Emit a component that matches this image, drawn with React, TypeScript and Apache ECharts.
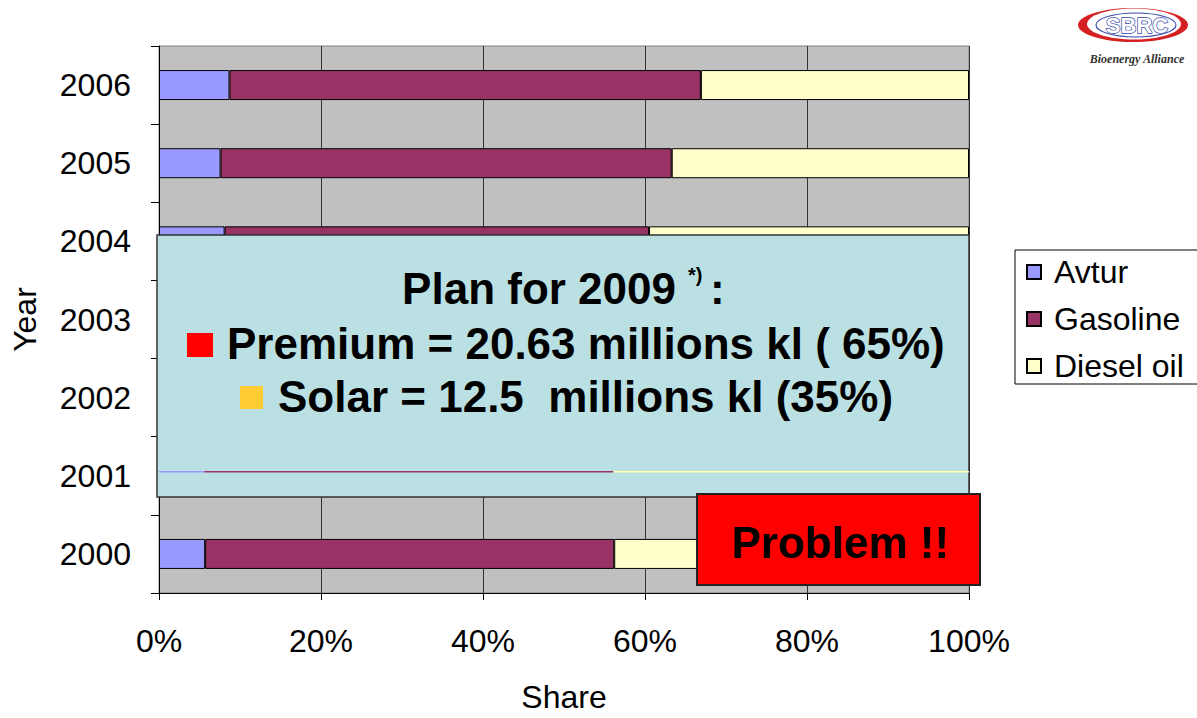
import React, { useEffect, useRef } from "react";
import * as echarts from "echarts";

const years = ["2000", "2001", "2002", "2003", "2004", "2005", "2006"];
const avtur = [5.7, 5.6, 6.0, 6.8, 8.1, 7.6, 8.7];
const gasoline = [50.5, 50.5, 51.0, 51.5, 52.4, 55.7, 58.2];
const diesel = [43.8, 43.9, 43.0, 41.7, 39.5, 36.7, 33.1];
const xTicks = [0, 20, 40, 60, 80, 100];
const seriesNames = ["Avtur", "Gasoline", "Diesel oil"];
const seriesColors = ["#9999FF", "#993366", "#FFFFCC"];

const FONT = "Liberation Sans, Arial, sans-serif";

export default function App() {
  const ref = useRef<HTMLDivElement>(null);
  useEffect(() => {
    if (!ref.current) return;
    const chart = echarts.init(ref.current, undefined, { renderer: "svg", width: 1197, height: 718 });
    const barStyle = (color: string) => ({
      color,
      borderColor: "#000",
      borderWidth: 1,
    });
    const values = [avtur, gasoline, diesel];
    chart.setOption({
      animation: false,
      backgroundColor: "#fff",
      textStyle: { fontFamily: FONT },
      grid: {
        left: 159,
        top: 46,
        width: 810,
        height: 555,
        show: true,
        backgroundColor: "#C0C0C0",
        borderColor: "#808080",
        borderWidth: 1,
      },
      legend: {
        orient: "vertical",
        left: 1015,
        top: 250,
        padding: [6, 40, 2, 11],
        itemWidth: 14,
        itemHeight: 14,
        itemGap: 15,
        icon: "rect",
        borderColor: "#000",
        borderWidth: 1,
        backgroundColor: "#fff",
        textStyle: {
          fontSize: 32,
          fontFamily: FONT,
          color: "#000",
          padding: [0, 0, 0, 8],
          lineHeight: 32,
        },
        data: seriesNames,
      },
      xAxis: {
        type: "value",
        min: xTicks[0],
        max: xTicks[xTicks.length - 1],
        interval: 20,
        name: "Share",
        nameLocation: "middle",
        nameGap: 88,
        nameTextStyle: { fontSize: 32, color: "#000", fontFamily: FONT },
        axisLine: { show: true, lineStyle: { color: "#000", width: 1 } },
        axisTick: { show: true, length: 7, lineStyle: { color: "#000" } },
        axisLabel: {
          formatter: "{value}%",
          fontSize: 32,
          color: "#000",
          margin: 32,
          fontFamily: FONT,
        },
        splitLine: { show: true, lineStyle: { color: "#333", width: 1 } },
      },
      yAxis: {
        type: "category",
        data: years,
        name: "Year",
        nameLocation: "middle",
        nameGap: 118,
        nameTextStyle: { fontSize: 32, color: "#000", fontFamily: FONT },
        axisLine: { show: true, lineStyle: { color: "#000", width: 1 } },
        axisTick: { show: true, length: 8, lineStyle: { color: "#000" } },
        axisLabel: { fontSize: 32, color: "#000", margin: 28, fontFamily: FONT },
        splitLine: { show: false },
      },
      series: seriesNames.map((name, i) => ({
        name,
        type: "bar",
        stack: "t",
        barWidth: 30,
        data: values[i],
        itemStyle: barStyle(seriesColors[i]),
      })),
    });

    // 2001 bar peeks through the overlay as a thin line
    const idx2001 = years.indexOf("2001");
    const peek: any[] = [];
    let acc = 0;
    values.forEach((arr, i) => {
      const p0 = chart.convertToPixel({ gridIndex: 0 }, [acc, idx2001]) as number[];
      acc += arr[idx2001];
      const p1 = chart.convertToPixel({ gridIndex: 0 }, [acc, idx2001]) as number[];
      peek.push({
        type: "line",
        z: 101,
        shape: { x1: p0[0], y1: p0[1] - 4, x2: p1[0], y2: p1[1] - 4 },
        style: { stroke: seriesColors[i] === "#FFFFCC" ? "#FFFFB0" : seriesColors[i], lineWidth: 1.5 },
      });
    });

    chart.setOption({
      graphic: [
        {
          type: "rect",
          z: 100,
          shape: { x: 157, y: 235, width: 812, height: 262 },
          style: { fill: "#BAE0E3", stroke: "#333", lineWidth: 1.5 },
        },
        ...peek,
        {
          type: "text",
          z: 101,
          x: 676,
          y: 288,
          style: {
            text: "Plan for 2009",
            font: "bold 44px " + FONT,
            fill: "#000",
            textAlign: "right",
            textVerticalAlign: "middle",
          },
        },
        {
          type: "text",
          z: 101,
          x: 688,
          y: 275,
          style: {
            text: "*)",
            font: "bold 20px " + FONT,
            fill: "#000",
            textAlign: "left",
            textVerticalAlign: "middle",
          },
        },
        {
          type: "text",
          z: 101,
          x: 710,
          y: 288,
          style: {
            text: ":",
            font: "bold 44px " + FONT,
            fill: "#000",
            textAlign: "left",
            textVerticalAlign: "middle",
          },
        },
        {
          type: "rect",
          z: 101,
          shape: { x: 187, y: 333, width: 26, height: 24 },
          style: { fill: "#FF0000" },
        },
        {
          type: "text",
          z: 101,
          x: 227,
          y: 343,
          style: {
            text: "Premium = 20.63 millions kl ( 65%)",
            font: "bold 44px " + FONT,
            fill: "#000",
            textAlign: "left",
            textVerticalAlign: "middle",
          },
        },
        {
          type: "rect",
          z: 101,
          shape: { x: 240, y: 386, width: 23, height: 23 },
          style: { fill: "#FFCC33" },
        },
        {
          type: "text",
          z: 101,
          x: 278,
          y: 396,
          style: {
            text: "Solar = 12.5  millions kl (35%)",
            font: "bold 44px " + FONT,
            fill: "#000",
            textAlign: "left",
            textVerticalAlign: "middle",
          },
        },
        {
          type: "rect",
          z: 102,
          shape: { x: 697, y: 494, width: 283, height: 91 },
          style: { fill: "#FF0000", stroke: "#222", lineWidth: 2 },
        },
        {
          type: "text",
          z: 103,
          x: 840,
          y: 542,
          style: {
            text: "Problem !!",
            font: "bold 44px " + FONT,
            fill: "#000",
            textAlign: "center",
            textVerticalAlign: "middle",
          },
        },
        // logo
        {
          type: "ellipse",
          z: 100,
          shape: { cx: 1133, cy: 25, rx: 55, ry: 17 },
          style: { fill: "#D42020" },
        },
        {
          type: "ellipse",
          z: 101,
          shape: { cx: 1134, cy: 24, rx: 47, ry: 15.5 },
          style: { fill: "#fff" },
        },
        {
          type: "ellipse",
          z: 102,
          shape: { cx: 1136, cy: 25, rx: 40, ry: 12 },
          style: { fill: "#fff", stroke: "#3B4BA8", lineWidth: 1.2 },
        },
        {
          type: "text",
          z: 103,
          x: 1137,
          y: 25,
          style: {
            text: "SBRC",
            font: "bold 22px " + FONT,
            fill: "#fff",
            stroke: "#3046A8",
            lineWidth: 1.4,
            textAlign: "center",
            textVerticalAlign: "middle",
          },
        },
        {
          type: "text",
          z: 103,
          x: 1137,
          y: 59,
          style: {
            text: "Bioenergy Alliance",
            font: "italic bold 12px Liberation Serif, serif",
            fill: "#333",
            textAlign: "center",
            textVerticalAlign: "middle",
          },
        },
      ],
    });
    return () => chart.dispose();
  }, []);
  return (
    <div
      ref={ref}
      style={{ position: "absolute", left: 0, top: 0, width: 1197, height: 718 }}
    />
  );
}
